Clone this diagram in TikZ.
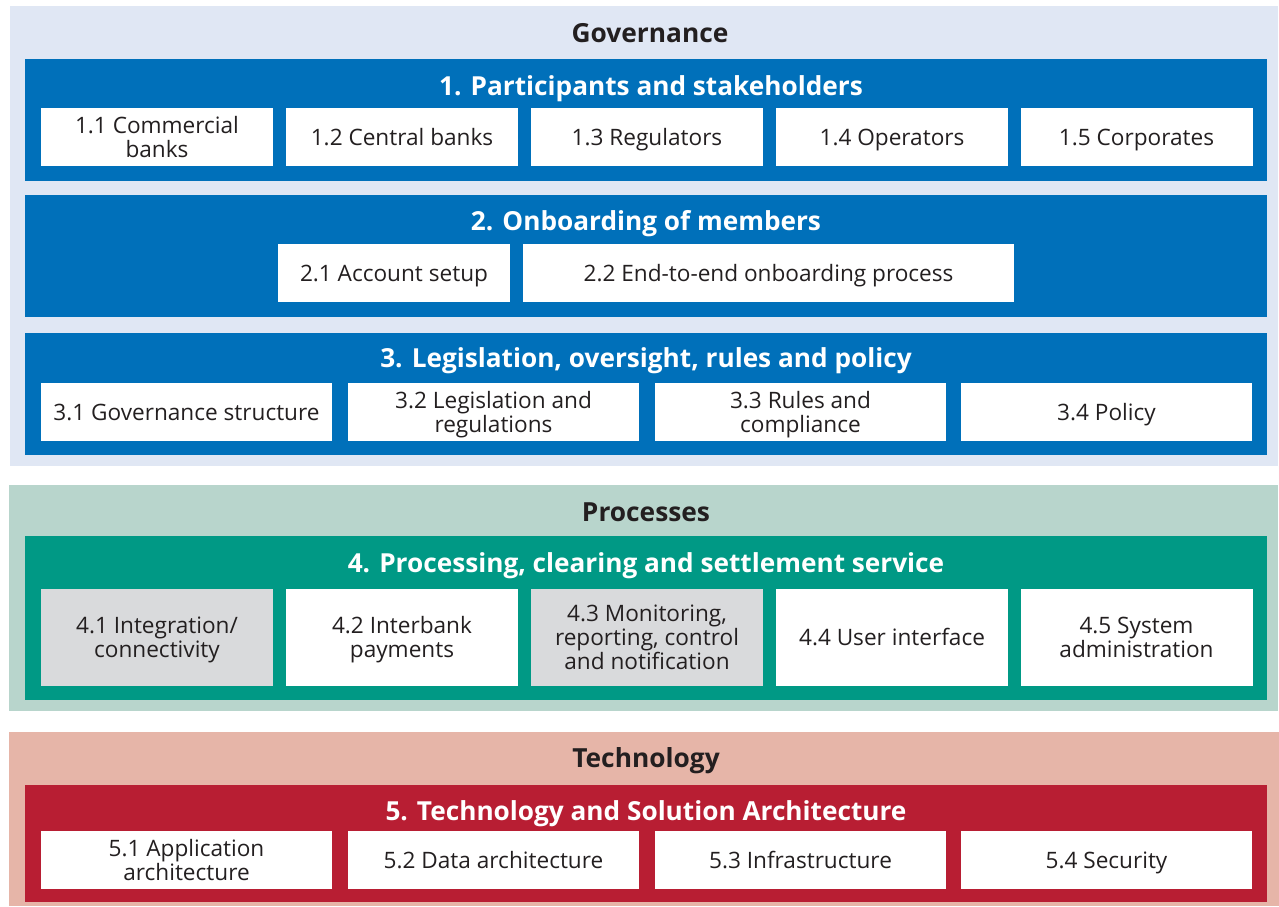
\documentclass[tikz,border=0pt]{standalone}
\usepackage{fontspec}
\setmainfont{Open Sans}
\usepackage{xcolor}

\definecolor{govbg}{HTML}{E0E7F4}
\definecolor{govblue}{HTML}{0070BA}
\definecolor{procbg}{HTML}{B8D5CC}
\definecolor{procgreen}{HTML}{009985}
\definecolor{techbg}{HTML}{E6B5A8}
\definecolor{techred}{HTML}{B81E33}
\definecolor{itemgrey}{HTML}{D9DADC}
\definecolor{ink}{HTML}{231F20}

% struts inside the first and last line of a box label
\newcommand{\boxtext}[1]{\rule{0pt}{22.6pt}#1\rule[-6pt]{0pt}{6pt}}

\tikzset{
  panel/.style={inner sep=0pt, minimum width=#1},
  band/.style={inner sep=0pt, minimum width=1242pt},
  item/.style={fill=white, inner sep=0pt, align=center, text=ink,
    font=\fontsize{22.6}{24}\selectfont},
  greyitem/.style={item, fill=itemgrey},
  head/.style={anchor=base, text=ink, font=\fontsize{26.3}{28}\bfseries},
  bandtitle/.style={anchor=base, text=white, font=\fontsize{26.2}{28}\bfseries}
}

\begin{document}
\begin{tikzpicture}[x=1pt,y=-1pt]
\useasboundingbox (0,0) rectangle (1279,907);
        % panels
        \node[panel=1268pt, minimum height=460pt, fill=govbg](gov) at (644,236) {};
        \node[panel=1269pt, minimum height=226pt, fill=procbg](proc) at (643.5,598) {};
        \node[panel=1270pt, minimum height=174pt, fill=techbg](tech) at (644,819) {};
        % bands
        \node[band, minimum height=122pt, fill=govblue](b1) at (646,120) {};
        \node[band, minimum height=122pt, fill=govblue](b2) at (646,256) {};
        \node[band, minimum height=122pt, fill=govblue](b3) at (646,394) {};
        \node[band, minimum height=164pt, fill=procgreen](b4) at (646,618) {};
        \node[band, minimum height=117pt, fill=techred](b5) at (646,843.5) {};
        % headings
        \node[head](hgov) at (650,42.3) {Governance};
        \node[head](hproc) at (646,521) {Processes};
        \node[head](htech) at (646,767) {Technology};
        \node[bandtitle](t1) at (651,95) {1. Participants and stakeholders};
        \node[bandtitle](t2) at (646,230) {2. Onboarding of members};
        \node[bandtitle](t3) at (646,367) {3. Legislation, oversight, rules and policy};
        \node[bandtitle](t4) at (646,572) {4. Processing, clearing and settlement service};
        \node[bandtitle](t5) at (646,820) {5. Technology and Solution Architecture};
        % 1.x
        \node[item, minimum width=232pt, minimum height=58pt](i11) at (157,137) {\boxtext{1.1 Commercial\\banks}};
        \node[item, minimum width=232pt, minimum height=58pt](i12) at (402,137) {\boxtext{1.2 Central banks}};
        \node[item, minimum width=232pt, minimum height=58pt](i13) at (647,137) {\boxtext{1.3 Regulators}};
        \node[item, minimum width=232pt, minimum height=58pt](i14) at (892,137) {\boxtext{1.4 Operators}};
        \node[item, minimum width=232pt, minimum height=58pt](i15) at (1136.5,137) {\boxtext{1.5 Corporates}};
        % 2.x
        \node[item, minimum width=232pt, minimum height=58pt](i21) at (394,273) {\boxtext{2.1 Account setup}};
        \node[item, minimum width=491pt, minimum height=58pt](i22) at (768.5,273) {\boxtext{2.2 End-to-end onboarding process}};
        % 3.x
        \node[item, minimum width=291pt, minimum height=58pt](i31) at (186.5,412) {\boxtext{3.1 Governance structure}};
        \node[item, minimum width=291pt, minimum height=58pt](i32) at (493.5,412) {\boxtext{3.2 Legislation and\\regulations}};
        \node[item, minimum width=291pt, minimum height=58pt](i33) at (800.5,412) {\boxtext{3.3 Rules and\\compliance}};
        \node[item, minimum width=291pt, minimum height=58pt](i34) at (1106.5,412) {\boxtext{3.4 Policy}};
        % 4.x
        \node[greyitem, minimum width=232pt, minimum height=97pt](i41) at (157,637.5) {\boxtext{4.1 Integration/\\connectivity}};
        \node[item, minimum width=232pt, minimum height=97pt](i42) at (402,637.5) {\boxtext{4.2 Interbank\\payments}};
        \node[greyitem, minimum width=232pt, minimum height=97pt](i43) at (647,637.5) {\boxtext{4.3 Monitoring,\\reporting, control\\and notification}};
        \node[item, minimum width=232pt, minimum height=97pt](i44) at (892,637.5) {\boxtext{4.4 User interface}};
        \node[item, minimum width=232pt, minimum height=97pt](i45) at (1136.5,637.5) {\boxtext{4.5 System\\administration}};
        % 5.x
        \node[item, minimum width=291pt, minimum height=58pt](i51) at (186.5,860) {\boxtext{5.1 Application\\architecture}};
        \node[item, minimum width=291pt, minimum height=58pt](i52) at (493.5,860) {\boxtext{5.2 Data architecture}};
        \node[item, minimum width=291pt, minimum height=58pt](i53) at (800.5,860) {\boxtext{5.3 Infrastructure}};
        \node[item, minimum width=291pt, minimum height=58pt](i54) at (1106.5,860) {\boxtext{5.4 Security}};
\end{tikzpicture}
\end{document}
